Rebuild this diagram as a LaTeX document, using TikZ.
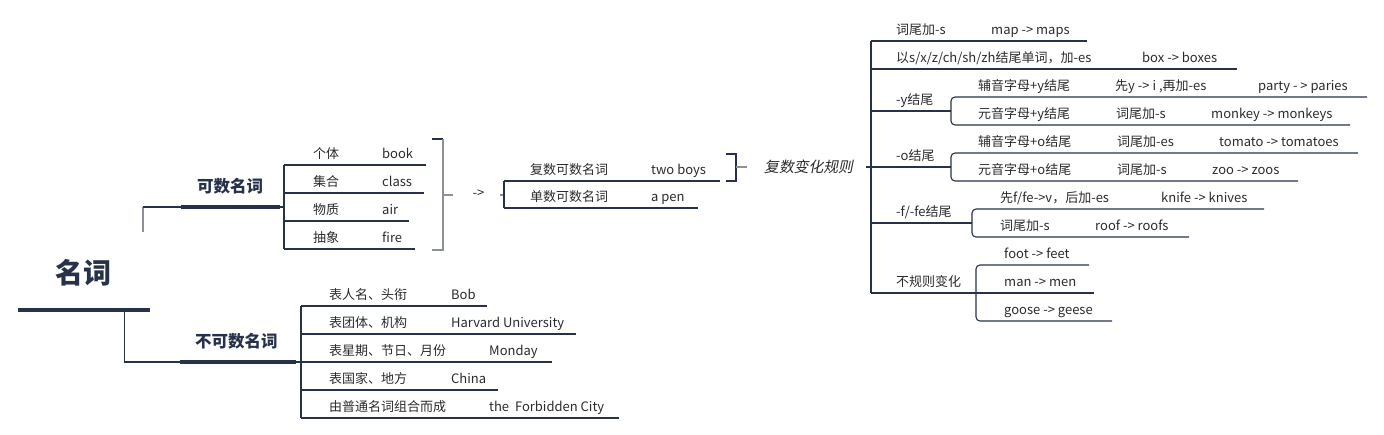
\documentclass[tikz,border=0pt]{standalone}
\usepackage{fontspec}
\setmainfont{Noto Sans CJK SC}
\newfontfamily\slantfont[FakeSlant=0.2]{Noto Sans CJK SC}
\usepackage{xcolor}
\usepackage{tikz}
\usetikzlibrary{positioning}

\definecolor{navy}{HTML}{27324A}
\definecolor{greyline}{HTML}{8C9099}
\definecolor{ink}{HTML}{2B2B2B}

\begin{document}
\begin{tikzpicture}[
    x=1pt, y=-1pt,
    every node/.style={inner sep=0pt, text=ink, font=\fontsize{13}{15}\selectfont},
    leaf/.style={anchor=base west},
    topic/.style={anchor=base west, font=\fontsize{16.5}{18}\selectfont\bfseries, text=navy},
    ln/.style={draw=navy, line width=1.1pt},
    grey/.style={draw=greyline, line width=1.6pt},
    bar/.style={draw=navy, line width=3.6pt},
    rnd/.style={ln, rounded corners=4pt},
]

\useasboundingbox (0,0) rectangle (1384,434);

% Root
\node[anchor=base west, font=\fontsize{28}{30}\selectfont\bfseries, text=navy] (root) at (55,283) {名词};
\coordinate (rootL) at (18,310);
\coordinate (rootR) at (150,310);
\draw[navy, line width=4.6pt] (rootL) -- (rootR);

% Main branches
\node[topic] (count) at (197,192) {可数名词};
\node[topic] (uncount) at (195,347) {不可数名词};
\coordinate (countL) at (181,207);
\coordinate (countR) at (280,207);
\coordinate (uncL) at (180,362);
\coordinate (uncR) at (296,362);
\draw[bar] (countL) -- (countR);
\draw[bar] (uncL) -- (uncR);
\coordinate (fork) at (124.7,310);
\draw[ln] (fork) |- (uncL);
\draw[grey] (143,232) -- (143,207);
\draw[ln] (143,207) -- (countL);

% Countable kinds
\foreach \a/\b/\y/\e [count=\i] in {个体/book/165/426, 集合/class/193/424, 物质/air/221/409, 抽象/fire/249/415} {
  \node[leaf] (kind\i) at (313,\y-7) {\a};
  \node[leaf] (kex\i) at (382,\y-7) {\b};
  \draw[ln] (284,\y) -- (\e,\y);
}
\draw[ln] (countR) -- (284,207);
\draw[ln] (284,165) -- (284,249);

% Grey bracket and arrow
\draw[ln] (432,139) -- (443,139);
\draw[grey] (443,139) -- (443,250) -- (432,250);
\draw[grey] (443,195) -- (453,195);
\node (arrow) at (478.5,194) {->};
\draw[grey] (500,195) -- (504,195);

% Plural / singular
\node[leaf] (plural) at (530,174) {复数可数名词};
\node[leaf] (pex) at (651,174) {two boys};
\node[leaf] (single) at (530,201) {单数可数名词};
\node[leaf] (sex) at (651,201) {a pen};
\draw[ln] (504,181) -- (720,181);
\draw[ln] (504,208) -- (698,208);
\draw[ln] (504,181) -- (504,208);

% Bracket to rules
\draw[ln] (726,154) -- (736,154) -- (736,181) -- (726,181);
\draw[grey, line width=1.3pt] (736,167) -- (747,167);
\node[anchor=base west, font=\fontsize{14.8}{16}\slantfont] (rules) at (764,172.6) {复数变化规则};
\draw[ln] (866,167) -- (871,167);
\draw[ln] (871,41) -- (871,293);

% Rule 1 and 2
\node[leaf] (r1) at (896,34) {词尾加-s};
\node[leaf] (r1x) at (991,34) {map -> maps};
\draw[ln] (871,41) -- (1087,41);
\node[leaf] (r2) at (896,62) {以s/x/z/ch/sh/zh结尾单词，加-es};
\node[leaf] (r2x) at (1142,62) {box -> boxes};
\draw[ln] (871,69) -- (1237,69);

% -y
\node[leaf] (ry) at (896,104) {-y结尾};
\draw[ln] (871,111) -- (951,111);
\node[leaf] (ry1) at (978,90) {辅音字母+y结尾};
\node[leaf] (ry1a) at (1115,90) {先y -> i ,再加-es};
\node[leaf] (ry1x) at (1258,90) {party - > paries};
\node[leaf] (ry2) at (978,118) {元音字母+y结尾};
\node[leaf] (ry2a) at (1116,118) {词尾加-s};
\node[leaf] (ry2x) at (1211,118) {monkey -> monkeys};
\draw[rnd] (1367,97) -- (951,97) -- (951,125) -- (1350,125);

% -o
\node[leaf] (ro) at (896,160) {-o结尾};
\draw[ln] (871,167) -- (951,167);
\node[leaf] (ro1) at (978,146) {辅音字母+o结尾};
\node[leaf] (ro1a) at (1117,146) {词尾加-es};
\node[leaf] (ro1x) at (1219,146) {tomato -> tomatoes};
\node[leaf] (ro2) at (978,174) {元音字母+o结尾};
\node[leaf] (ro2a) at (1117,174) {词尾加-s};
\node[leaf] (ro2x) at (1212,174) {zoo -> zoos};
\draw[rnd] (1358,153) -- (951,153) -- (951,181) -- (1298,181);

% -f/-fe
\node[leaf] (rf) at (896,216) {-f/-fe结尾};
\draw[ln] (871,223) -- (972,223);
\node[leaf] (rf1) at (1000,202) {先f/fe->v，后加-es};
\node[leaf] (rf1x) at (1161,202) {knife -> knives};
\node[leaf] (rf2) at (1000,230) {词尾加-s};
\node[leaf] (rf2x) at (1095,230) {roof -> roofs};
\draw[rnd] (1264,209) -- (972,209) -- (972,237) -- (1189,237);

% Irregular
\node[leaf] (rirr) at (896,286) {不规则变化};
\draw[ln] (871,293) -- (976,293);
\node[leaf] (irr1) at (1004,258) {foot -> feet};
\node[leaf] (irr2) at (1004,286) {man -> men};
\node[leaf] (irr3) at (1004,314) {goose -> geese};
\draw[rnd] (1089,265) -- (976,265) -- (976,321) -- (1112,321);
\draw[ln] (976,293) -- (1094,293);

% Uncountable kinds
\foreach \a/\b/\bx/\y/\e [count=\i] in {表人名、头衔/Bob/451/306/487, 表团体、机构/Harvard University/451/334/576, 表星期、节日、月份/Monday/489/362/552, 表国家、地方/China/451/390/498, 由普通名词组合而成/{the\ \ Forbidden City}/489/418/619} {
  \node[leaf] (un\i) at (329,\y-7) {\a};
  \node[leaf] (unx\i) at (\bx,\y-7) {\b};
  \draw[ln] (301,\y) -- (\e,\y);
}
\draw[ln] (uncR) -- (301,362);
\draw[ln] (301,306) -- (301,418);

\end{tikzpicture}
\end{document}
